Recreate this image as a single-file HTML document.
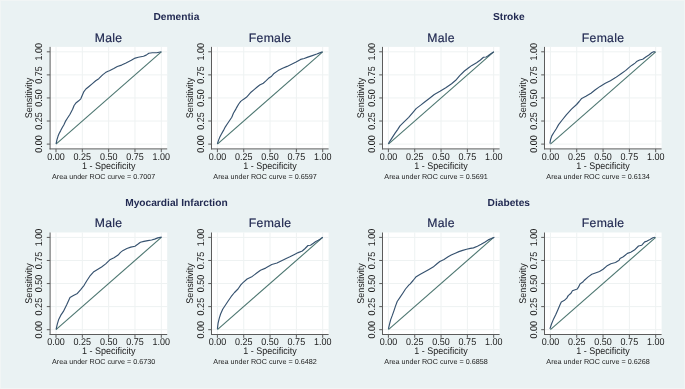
<!DOCTYPE html>
<html><head><meta charset="utf-8"><style>
html,body{margin:0;padding:0;background:#eaf2f3;}
svg{display:block;will-change:transform;text-rendering:geometricPrecision;font-family:"Liberation Sans",sans-serif;}
</style></head><body>
<svg width="685" height="389" viewBox="0 0 685 389">
<rect x="0" y="0" width="685" height="389" fill="#eaf2f3"/>
<rect x="50.1" y="46.9" width="117.1" height="102" fill="#fff"/>
<line x1="56" y1="46.9" x2="56" y2="148.9" stroke="#eef2f2" stroke-width="1"/>
<line x1="50.1" y1="144.1" x2="167.2" y2="144.1" stroke="#eef2f2" stroke-width="1"/>
<line x1="82.33" y1="46.9" x2="82.33" y2="148.9" stroke="#eef2f2" stroke-width="1"/>
<line x1="50.1" y1="121.02" x2="167.2" y2="121.02" stroke="#eef2f2" stroke-width="1"/>
<line x1="108.65" y1="46.9" x2="108.65" y2="148.9" stroke="#eef2f2" stroke-width="1"/>
<line x1="50.1" y1="97.95" x2="167.2" y2="97.95" stroke="#eef2f2" stroke-width="1"/>
<line x1="134.97" y1="46.9" x2="134.97" y2="148.9" stroke="#eef2f2" stroke-width="1"/>
<line x1="50.1" y1="74.88" x2="167.2" y2="74.88" stroke="#eef2f2" stroke-width="1"/>
<line x1="161.3" y1="46.9" x2="161.3" y2="148.9" stroke="#eef2f2" stroke-width="1"/>
<line x1="50.1" y1="51.8" x2="167.2" y2="51.8" stroke="#eef2f2" stroke-width="1"/>
<line x1="50.1" y1="46.9" x2="50.1" y2="149.4" stroke="#5c5c5c" stroke-width="1"/>
<line x1="49.6" y1="148.9" x2="167.2" y2="148.9" stroke="#5c5c5c" stroke-width="1"/>
<line x1="46.8" y1="144.1" x2="50.1" y2="144.1" stroke="#5c5c5c" stroke-width="1"/>
<line x1="56" y1="148.9" x2="56" y2="152.2" stroke="#5c5c5c" stroke-width="1"/>
<text transform="translate(56,159.7) scale(1,1.09)" font-size="9" text-anchor="middle" fill="#1c1c1c">0.00</text>
<text transform="translate(42.4,144.1) rotate(-90) scale(1,1.09)" font-size="9" text-anchor="middle" fill="#1c1c1c">0.00</text>
<line x1="46.8" y1="121.02" x2="50.1" y2="121.02" stroke="#5c5c5c" stroke-width="1"/>
<line x1="82.33" y1="148.9" x2="82.33" y2="152.2" stroke="#5c5c5c" stroke-width="1"/>
<text transform="translate(82.33,159.7) scale(1,1.09)" font-size="9" text-anchor="middle" fill="#1c1c1c">0.25</text>
<text transform="translate(42.4,121.02) rotate(-90) scale(1,1.09)" font-size="9" text-anchor="middle" fill="#1c1c1c">0.25</text>
<line x1="46.8" y1="97.95" x2="50.1" y2="97.95" stroke="#5c5c5c" stroke-width="1"/>
<line x1="108.65" y1="148.9" x2="108.65" y2="152.2" stroke="#5c5c5c" stroke-width="1"/>
<text transform="translate(108.65,159.7) scale(1,1.09)" font-size="9" text-anchor="middle" fill="#1c1c1c">0.50</text>
<text transform="translate(42.4,97.95) rotate(-90) scale(1,1.09)" font-size="9" text-anchor="middle" fill="#1c1c1c">0.50</text>
<line x1="46.8" y1="74.88" x2="50.1" y2="74.88" stroke="#5c5c5c" stroke-width="1"/>
<line x1="134.97" y1="148.9" x2="134.97" y2="152.2" stroke="#5c5c5c" stroke-width="1"/>
<text transform="translate(134.97,159.7) scale(1,1.09)" font-size="9" text-anchor="middle" fill="#1c1c1c">0.75</text>
<text transform="translate(42.4,74.88) rotate(-90) scale(1,1.09)" font-size="9" text-anchor="middle" fill="#1c1c1c">0.75</text>
<line x1="46.8" y1="51.8" x2="50.1" y2="51.8" stroke="#5c5c5c" stroke-width="1"/>
<line x1="161.3" y1="148.9" x2="161.3" y2="152.2" stroke="#5c5c5c" stroke-width="1"/>
<text transform="translate(161.3,159.7) scale(1,1.09)" font-size="9" text-anchor="middle" fill="#1c1c1c">1.00</text>
<text transform="translate(42.4,51.8) rotate(-90) scale(1,1.09)" font-size="9" text-anchor="middle" fill="#1c1c1c">1.00</text>
<line x1="56" y1="144.1" x2="161.3" y2="51.8" stroke="#4c7670" stroke-width="1.12"/>
<polyline points="56.1,143.8 56.9,139.9 58,136.3 59,133.7 60.7,130.6 62.3,127.5 63.8,125 65.4,121.4 67.4,118.3 70,114.2 72.6,109.3 74.1,105.5 76.2,102.7 78.7,100.8 80.8,98.8 82.3,95.2 83.9,91.6 85.9,89 89,86.5 92.1,83.9 95.7,80.8 98.8,78.7 100.8,76.7 102.9,74.6 105.5,72.6 108,71.3 109.4,70.8 113.8,68.6 117.3,66.5 121.6,65.1 126,63 131.3,60.3 135.2,58.1 138.3,57.3 143.5,56.2 146.2,55.1 148.8,53.3 152.3,52.7 156.7,52.7 161.5,51.7" fill="none" stroke="#36526f" stroke-width="1.15" stroke-linejoin="round"/>
<text x="108.65" y="41.9" font-size="12.2" letter-spacing="0.3" text-anchor="middle" fill="#222a52" stroke="#222a52" stroke-width="0.2">Male</text>
<text transform="translate(108.65,168.7) scale(1,1.07)" font-size="9" text-anchor="middle" fill="#1c1c1c">1 - Specificity</text>
<text transform="translate(31.6,97.95) rotate(-90) scale(1,1.07)" font-size="9" text-anchor="middle" fill="#1c1c1c">Sensitivity</text>
<text x="103.6" y="178.5" font-size="7.2" text-anchor="middle" fill="#1c1c1c">Area under ROC curve = 0.7007</text>
<rect x="211.5" y="46.9" width="117.1" height="102" fill="#fff"/>
<line x1="217.4" y1="46.9" x2="217.4" y2="148.9" stroke="#eef2f2" stroke-width="1"/>
<line x1="211.5" y1="144.1" x2="328.6" y2="144.1" stroke="#eef2f2" stroke-width="1"/>
<line x1="243.72" y1="46.9" x2="243.72" y2="148.9" stroke="#eef2f2" stroke-width="1"/>
<line x1="211.5" y1="121.02" x2="328.6" y2="121.02" stroke="#eef2f2" stroke-width="1"/>
<line x1="270.05" y1="46.9" x2="270.05" y2="148.9" stroke="#eef2f2" stroke-width="1"/>
<line x1="211.5" y1="97.95" x2="328.6" y2="97.95" stroke="#eef2f2" stroke-width="1"/>
<line x1="296.38" y1="46.9" x2="296.38" y2="148.9" stroke="#eef2f2" stroke-width="1"/>
<line x1="211.5" y1="74.88" x2="328.6" y2="74.88" stroke="#eef2f2" stroke-width="1"/>
<line x1="322.7" y1="46.9" x2="322.7" y2="148.9" stroke="#eef2f2" stroke-width="1"/>
<line x1="211.5" y1="51.8" x2="328.6" y2="51.8" stroke="#eef2f2" stroke-width="1"/>
<line x1="211.5" y1="46.9" x2="211.5" y2="149.4" stroke="#5c5c5c" stroke-width="1"/>
<line x1="211" y1="148.9" x2="328.6" y2="148.9" stroke="#5c5c5c" stroke-width="1"/>
<line x1="208.2" y1="144.1" x2="211.5" y2="144.1" stroke="#5c5c5c" stroke-width="1"/>
<line x1="217.4" y1="148.9" x2="217.4" y2="152.2" stroke="#5c5c5c" stroke-width="1"/>
<text transform="translate(217.4,159.7) scale(1,1.09)" font-size="9" text-anchor="middle" fill="#1c1c1c">0.00</text>
<text transform="translate(203.8,144.1) rotate(-90) scale(1,1.09)" font-size="9" text-anchor="middle" fill="#1c1c1c">0.00</text>
<line x1="208.2" y1="121.02" x2="211.5" y2="121.02" stroke="#5c5c5c" stroke-width="1"/>
<line x1="243.72" y1="148.9" x2="243.72" y2="152.2" stroke="#5c5c5c" stroke-width="1"/>
<text transform="translate(243.72,159.7) scale(1,1.09)" font-size="9" text-anchor="middle" fill="#1c1c1c">0.25</text>
<text transform="translate(203.8,121.02) rotate(-90) scale(1,1.09)" font-size="9" text-anchor="middle" fill="#1c1c1c">0.25</text>
<line x1="208.2" y1="97.95" x2="211.5" y2="97.95" stroke="#5c5c5c" stroke-width="1"/>
<line x1="270.05" y1="148.9" x2="270.05" y2="152.2" stroke="#5c5c5c" stroke-width="1"/>
<text transform="translate(270.05,159.7) scale(1,1.09)" font-size="9" text-anchor="middle" fill="#1c1c1c">0.50</text>
<text transform="translate(203.8,97.95) rotate(-90) scale(1,1.09)" font-size="9" text-anchor="middle" fill="#1c1c1c">0.50</text>
<line x1="208.2" y1="74.88" x2="211.5" y2="74.88" stroke="#5c5c5c" stroke-width="1"/>
<line x1="296.38" y1="148.9" x2="296.38" y2="152.2" stroke="#5c5c5c" stroke-width="1"/>
<text transform="translate(296.38,159.7) scale(1,1.09)" font-size="9" text-anchor="middle" fill="#1c1c1c">0.75</text>
<text transform="translate(203.8,74.88) rotate(-90) scale(1,1.09)" font-size="9" text-anchor="middle" fill="#1c1c1c">0.75</text>
<line x1="208.2" y1="51.8" x2="211.5" y2="51.8" stroke="#5c5c5c" stroke-width="1"/>
<line x1="322.7" y1="148.9" x2="322.7" y2="152.2" stroke="#5c5c5c" stroke-width="1"/>
<text transform="translate(322.7,159.7) scale(1,1.09)" font-size="9" text-anchor="middle" fill="#1c1c1c">1.00</text>
<text transform="translate(203.8,51.8) rotate(-90) scale(1,1.09)" font-size="9" text-anchor="middle" fill="#1c1c1c">1.00</text>
<line x1="217.4" y1="144.1" x2="322.7" y2="51.8" stroke="#4c7670" stroke-width="1.12"/>
<polyline points="217.4,143.8 218.5,140.4 219.6,137.6 221.3,134.3 223.5,130.4 225.2,127.1 227.4,123.8 229.6,120.5 231.8,117.2 233.4,113.3 235.7,109.4 236.6,107.6 238.7,104 240.7,101.4 243.3,99.4 246.4,97.3 248.4,95.2 251,92.2 254.1,89.6 257.2,87 259.7,85 263.3,83.2 265.9,80.9 268.5,78.3 271.6,76.2 273.6,73.8 278.1,70.6 282.6,68.2 287.1,66.4 291.6,64.3 296.1,62.1 300.6,59.4 304.2,58.5 307.8,57.1 312.3,55.6 316.8,54 320.4,52.6 322.6,51.7" fill="none" stroke="#36526f" stroke-width="1.15" stroke-linejoin="round"/>
<text x="270.05" y="41.9" font-size="12.2" letter-spacing="0.3" text-anchor="middle" fill="#222a52" stroke="#222a52" stroke-width="0.2">Female</text>
<text transform="translate(270.05,168.7) scale(1,1.07)" font-size="9" text-anchor="middle" fill="#1c1c1c">1 - Specificity</text>
<text transform="translate(193,97.95) rotate(-90) scale(1,1.07)" font-size="9" text-anchor="middle" fill="#1c1c1c">Sensitivity</text>
<text x="265" y="178.5" font-size="7.2" text-anchor="middle" fill="#1c1c1c">Area under ROC curve = 0.6597</text>
<text x="176.4" y="20.2" font-size="10.2" font-weight="bold" text-anchor="middle" fill="#222a52">Dementia</text>
<rect x="382.5" y="46.9" width="117.1" height="102" fill="#fff"/>
<line x1="388.4" y1="46.9" x2="388.4" y2="148.9" stroke="#eef2f2" stroke-width="1"/>
<line x1="382.5" y1="144.1" x2="499.6" y2="144.1" stroke="#eef2f2" stroke-width="1"/>
<line x1="414.72" y1="46.9" x2="414.72" y2="148.9" stroke="#eef2f2" stroke-width="1"/>
<line x1="382.5" y1="121.02" x2="499.6" y2="121.02" stroke="#eef2f2" stroke-width="1"/>
<line x1="441.05" y1="46.9" x2="441.05" y2="148.9" stroke="#eef2f2" stroke-width="1"/>
<line x1="382.5" y1="97.95" x2="499.6" y2="97.95" stroke="#eef2f2" stroke-width="1"/>
<line x1="467.38" y1="46.9" x2="467.38" y2="148.9" stroke="#eef2f2" stroke-width="1"/>
<line x1="382.5" y1="74.88" x2="499.6" y2="74.88" stroke="#eef2f2" stroke-width="1"/>
<line x1="493.7" y1="46.9" x2="493.7" y2="148.9" stroke="#eef2f2" stroke-width="1"/>
<line x1="382.5" y1="51.8" x2="499.6" y2="51.8" stroke="#eef2f2" stroke-width="1"/>
<line x1="382.5" y1="46.9" x2="382.5" y2="149.4" stroke="#5c5c5c" stroke-width="1"/>
<line x1="382" y1="148.9" x2="499.6" y2="148.9" stroke="#5c5c5c" stroke-width="1"/>
<line x1="379.2" y1="144.1" x2="382.5" y2="144.1" stroke="#5c5c5c" stroke-width="1"/>
<line x1="388.4" y1="148.9" x2="388.4" y2="152.2" stroke="#5c5c5c" stroke-width="1"/>
<text transform="translate(388.4,159.7) scale(1,1.09)" font-size="9" text-anchor="middle" fill="#1c1c1c">0.00</text>
<text transform="translate(374.8,144.1) rotate(-90) scale(1,1.09)" font-size="9" text-anchor="middle" fill="#1c1c1c">0.00</text>
<line x1="379.2" y1="121.02" x2="382.5" y2="121.02" stroke="#5c5c5c" stroke-width="1"/>
<line x1="414.72" y1="148.9" x2="414.72" y2="152.2" stroke="#5c5c5c" stroke-width="1"/>
<text transform="translate(414.72,159.7) scale(1,1.09)" font-size="9" text-anchor="middle" fill="#1c1c1c">0.25</text>
<text transform="translate(374.8,121.02) rotate(-90) scale(1,1.09)" font-size="9" text-anchor="middle" fill="#1c1c1c">0.25</text>
<line x1="379.2" y1="97.95" x2="382.5" y2="97.95" stroke="#5c5c5c" stroke-width="1"/>
<line x1="441.05" y1="148.9" x2="441.05" y2="152.2" stroke="#5c5c5c" stroke-width="1"/>
<text transform="translate(441.05,159.7) scale(1,1.09)" font-size="9" text-anchor="middle" fill="#1c1c1c">0.50</text>
<text transform="translate(374.8,97.95) rotate(-90) scale(1,1.09)" font-size="9" text-anchor="middle" fill="#1c1c1c">0.50</text>
<line x1="379.2" y1="74.88" x2="382.5" y2="74.88" stroke="#5c5c5c" stroke-width="1"/>
<line x1="467.38" y1="148.9" x2="467.38" y2="152.2" stroke="#5c5c5c" stroke-width="1"/>
<text transform="translate(467.38,159.7) scale(1,1.09)" font-size="9" text-anchor="middle" fill="#1c1c1c">0.75</text>
<text transform="translate(374.8,74.88) rotate(-90) scale(1,1.09)" font-size="9" text-anchor="middle" fill="#1c1c1c">0.75</text>
<line x1="379.2" y1="51.8" x2="382.5" y2="51.8" stroke="#5c5c5c" stroke-width="1"/>
<line x1="493.7" y1="148.9" x2="493.7" y2="152.2" stroke="#5c5c5c" stroke-width="1"/>
<text transform="translate(493.7,159.7) scale(1,1.09)" font-size="9" text-anchor="middle" fill="#1c1c1c">1.00</text>
<text transform="translate(374.8,51.8) rotate(-90) scale(1,1.09)" font-size="9" text-anchor="middle" fill="#1c1c1c">1.00</text>
<line x1="388.4" y1="144.1" x2="493.7" y2="51.8" stroke="#4c7670" stroke-width="1.12"/>
<polyline points="388.3,143.7 391.4,138.9 395.1,133.1 397.6,129.6 400,125.9 403.8,122.2 408.7,117.3 413,112.3 416.1,108.6 421,104.9 425,101.7 429.6,98.2 434.3,94.5 440,91.3 445.8,87.8 451.6,83.7 455.7,80.3 459.7,75.6 464.4,71 469,67.5 471.9,65.4 476.6,62.7 480.4,60 483.5,57.2 486.2,57 488.1,55.8 491.2,53.5 493.9,51.8" fill="none" stroke="#36526f" stroke-width="1.15" stroke-linejoin="round"/>
<text x="441.05" y="41.9" font-size="12.2" letter-spacing="0.3" text-anchor="middle" fill="#222a52" stroke="#222a52" stroke-width="0.2">Male</text>
<text transform="translate(441.05,168.7) scale(1,1.07)" font-size="9" text-anchor="middle" fill="#1c1c1c">1 - Specificity</text>
<text transform="translate(364,97.95) rotate(-90) scale(1,1.07)" font-size="9" text-anchor="middle" fill="#1c1c1c">Sensitivity</text>
<text x="436" y="178.5" font-size="7.2" text-anchor="middle" fill="#1c1c1c">Area under ROC curve = 0.5691</text>
<rect x="544.5" y="46.9" width="117.1" height="102" fill="#fff"/>
<line x1="550.4" y1="46.9" x2="550.4" y2="148.9" stroke="#eef2f2" stroke-width="1"/>
<line x1="544.5" y1="144.1" x2="661.6" y2="144.1" stroke="#eef2f2" stroke-width="1"/>
<line x1="576.73" y1="46.9" x2="576.73" y2="148.9" stroke="#eef2f2" stroke-width="1"/>
<line x1="544.5" y1="121.02" x2="661.6" y2="121.02" stroke="#eef2f2" stroke-width="1"/>
<line x1="603.05" y1="46.9" x2="603.05" y2="148.9" stroke="#eef2f2" stroke-width="1"/>
<line x1="544.5" y1="97.95" x2="661.6" y2="97.95" stroke="#eef2f2" stroke-width="1"/>
<line x1="629.38" y1="46.9" x2="629.38" y2="148.9" stroke="#eef2f2" stroke-width="1"/>
<line x1="544.5" y1="74.88" x2="661.6" y2="74.88" stroke="#eef2f2" stroke-width="1"/>
<line x1="655.7" y1="46.9" x2="655.7" y2="148.9" stroke="#eef2f2" stroke-width="1"/>
<line x1="544.5" y1="51.8" x2="661.6" y2="51.8" stroke="#eef2f2" stroke-width="1"/>
<line x1="544.5" y1="46.9" x2="544.5" y2="149.4" stroke="#5c5c5c" stroke-width="1"/>
<line x1="544" y1="148.9" x2="661.6" y2="148.9" stroke="#5c5c5c" stroke-width="1"/>
<line x1="541.2" y1="144.1" x2="544.5" y2="144.1" stroke="#5c5c5c" stroke-width="1"/>
<line x1="550.4" y1="148.9" x2="550.4" y2="152.2" stroke="#5c5c5c" stroke-width="1"/>
<text transform="translate(550.4,159.7) scale(1,1.09)" font-size="9" text-anchor="middle" fill="#1c1c1c">0.00</text>
<text transform="translate(536.8,144.1) rotate(-90) scale(1,1.09)" font-size="9" text-anchor="middle" fill="#1c1c1c">0.00</text>
<line x1="541.2" y1="121.02" x2="544.5" y2="121.02" stroke="#5c5c5c" stroke-width="1"/>
<line x1="576.73" y1="148.9" x2="576.73" y2="152.2" stroke="#5c5c5c" stroke-width="1"/>
<text transform="translate(576.73,159.7) scale(1,1.09)" font-size="9" text-anchor="middle" fill="#1c1c1c">0.25</text>
<text transform="translate(536.8,121.02) rotate(-90) scale(1,1.09)" font-size="9" text-anchor="middle" fill="#1c1c1c">0.25</text>
<line x1="541.2" y1="97.95" x2="544.5" y2="97.95" stroke="#5c5c5c" stroke-width="1"/>
<line x1="603.05" y1="148.9" x2="603.05" y2="152.2" stroke="#5c5c5c" stroke-width="1"/>
<text transform="translate(603.05,159.7) scale(1,1.09)" font-size="9" text-anchor="middle" fill="#1c1c1c">0.50</text>
<text transform="translate(536.8,97.95) rotate(-90) scale(1,1.09)" font-size="9" text-anchor="middle" fill="#1c1c1c">0.50</text>
<line x1="541.2" y1="74.88" x2="544.5" y2="74.88" stroke="#5c5c5c" stroke-width="1"/>
<line x1="629.38" y1="148.9" x2="629.38" y2="152.2" stroke="#5c5c5c" stroke-width="1"/>
<text transform="translate(629.38,159.7) scale(1,1.09)" font-size="9" text-anchor="middle" fill="#1c1c1c">0.75</text>
<text transform="translate(536.8,74.88) rotate(-90) scale(1,1.09)" font-size="9" text-anchor="middle" fill="#1c1c1c">0.75</text>
<line x1="541.2" y1="51.8" x2="544.5" y2="51.8" stroke="#5c5c5c" stroke-width="1"/>
<line x1="655.7" y1="148.9" x2="655.7" y2="152.2" stroke="#5c5c5c" stroke-width="1"/>
<text transform="translate(655.7,159.7) scale(1,1.09)" font-size="9" text-anchor="middle" fill="#1c1c1c">1.00</text>
<text transform="translate(536.8,51.8) rotate(-90) scale(1,1.09)" font-size="9" text-anchor="middle" fill="#1c1c1c">1.00</text>
<line x1="550.4" y1="144.1" x2="655.7" y2="51.8" stroke="#4c7670" stroke-width="1.12"/>
<polyline points="549.9,143.5 550.5,139.8 551.8,135.9 553.7,132.7 556.3,128.8 558.6,124.6 562.2,120 566.3,114.8 571.5,109.2 576.6,104.5 579.2,101.5 581.7,98.4 585.9,96.3 591,93.2 595,90 600.1,86.4 605.3,83.3 610.4,80.7 615.6,77.6 620.7,74 625.8,70.4 628.9,67.6 631,65.9 632.7,64.7 635,63.1 636.6,61.6 639.6,60 642.7,59.3 645.8,57 648.9,55 651.6,52.7 653.5,51.8 655.3,51.8" fill="none" stroke="#36526f" stroke-width="1.15" stroke-linejoin="round"/>
<text x="603.05" y="41.9" font-size="12.2" letter-spacing="0.3" text-anchor="middle" fill="#222a52" stroke="#222a52" stroke-width="0.2">Female</text>
<text transform="translate(603.05,168.7) scale(1,1.07)" font-size="9" text-anchor="middle" fill="#1c1c1c">1 - Specificity</text>
<text transform="translate(526,97.95) rotate(-90) scale(1,1.07)" font-size="9" text-anchor="middle" fill="#1c1c1c">Sensitivity</text>
<text x="598" y="178.5" font-size="7.2" text-anchor="middle" fill="#1c1c1c">Area under ROC curve = 0.6134</text>
<text x="508.8" y="20.2" font-size="10.2" font-weight="bold" text-anchor="middle" fill="#222a52">Stroke</text>
<rect x="50.1" y="232.5" width="117.1" height="102" fill="#fff"/>
<line x1="56" y1="232.5" x2="56" y2="334.5" stroke="#eef2f2" stroke-width="1"/>
<line x1="50.1" y1="329.7" x2="167.2" y2="329.7" stroke="#eef2f2" stroke-width="1"/>
<line x1="82.33" y1="232.5" x2="82.33" y2="334.5" stroke="#eef2f2" stroke-width="1"/>
<line x1="50.1" y1="306.62" x2="167.2" y2="306.62" stroke="#eef2f2" stroke-width="1"/>
<line x1="108.65" y1="232.5" x2="108.65" y2="334.5" stroke="#eef2f2" stroke-width="1"/>
<line x1="50.1" y1="283.55" x2="167.2" y2="283.55" stroke="#eef2f2" stroke-width="1"/>
<line x1="134.97" y1="232.5" x2="134.97" y2="334.5" stroke="#eef2f2" stroke-width="1"/>
<line x1="50.1" y1="260.48" x2="167.2" y2="260.48" stroke="#eef2f2" stroke-width="1"/>
<line x1="161.3" y1="232.5" x2="161.3" y2="334.5" stroke="#eef2f2" stroke-width="1"/>
<line x1="50.1" y1="237.4" x2="167.2" y2="237.4" stroke="#eef2f2" stroke-width="1"/>
<line x1="50.1" y1="232.5" x2="50.1" y2="335" stroke="#5c5c5c" stroke-width="1"/>
<line x1="49.6" y1="334.5" x2="167.2" y2="334.5" stroke="#5c5c5c" stroke-width="1"/>
<line x1="46.8" y1="329.7" x2="50.1" y2="329.7" stroke="#5c5c5c" stroke-width="1"/>
<line x1="56" y1="334.5" x2="56" y2="337.8" stroke="#5c5c5c" stroke-width="1"/>
<text transform="translate(56,345) scale(1,1.09)" font-size="9" text-anchor="middle" fill="#1c1c1c">0.00</text>
<text transform="translate(42.4,329.7) rotate(-90) scale(1,1.09)" font-size="9" text-anchor="middle" fill="#1c1c1c">0.00</text>
<line x1="46.8" y1="306.62" x2="50.1" y2="306.62" stroke="#5c5c5c" stroke-width="1"/>
<line x1="82.33" y1="334.5" x2="82.33" y2="337.8" stroke="#5c5c5c" stroke-width="1"/>
<text transform="translate(82.33,345) scale(1,1.09)" font-size="9" text-anchor="middle" fill="#1c1c1c">0.25</text>
<text transform="translate(42.4,306.62) rotate(-90) scale(1,1.09)" font-size="9" text-anchor="middle" fill="#1c1c1c">0.25</text>
<line x1="46.8" y1="283.55" x2="50.1" y2="283.55" stroke="#5c5c5c" stroke-width="1"/>
<line x1="108.65" y1="334.5" x2="108.65" y2="337.8" stroke="#5c5c5c" stroke-width="1"/>
<text transform="translate(108.65,345) scale(1,1.09)" font-size="9" text-anchor="middle" fill="#1c1c1c">0.50</text>
<text transform="translate(42.4,283.55) rotate(-90) scale(1,1.09)" font-size="9" text-anchor="middle" fill="#1c1c1c">0.50</text>
<line x1="46.8" y1="260.48" x2="50.1" y2="260.48" stroke="#5c5c5c" stroke-width="1"/>
<line x1="134.97" y1="334.5" x2="134.97" y2="337.8" stroke="#5c5c5c" stroke-width="1"/>
<text transform="translate(134.97,345) scale(1,1.09)" font-size="9" text-anchor="middle" fill="#1c1c1c">0.75</text>
<text transform="translate(42.4,260.48) rotate(-90) scale(1,1.09)" font-size="9" text-anchor="middle" fill="#1c1c1c">0.75</text>
<line x1="46.8" y1="237.4" x2="50.1" y2="237.4" stroke="#5c5c5c" stroke-width="1"/>
<line x1="161.3" y1="334.5" x2="161.3" y2="337.8" stroke="#5c5c5c" stroke-width="1"/>
<text transform="translate(161.3,345) scale(1,1.09)" font-size="9" text-anchor="middle" fill="#1c1c1c">1.00</text>
<text transform="translate(42.4,237.4) rotate(-90) scale(1,1.09)" font-size="9" text-anchor="middle" fill="#1c1c1c">1.00</text>
<line x1="56" y1="329.7" x2="161.3" y2="237.4" stroke="#4c7670" stroke-width="1.12"/>
<polyline points="56.1,329.4 57.3,324.1 58.7,319.4 60.7,315.4 63.4,311.4 66.7,304.7 70,297.4 73.4,295.4 77.4,293.4 80.7,289.6 84.1,285.3 86.8,280.7 89.8,276.2 93.4,272.1 97.5,269.5 101.6,267 105.7,263.9 109.8,259.8 114,257.7 118.1,255.1 120.5,252.4 123.1,250.4 126.9,248.5 130.8,247.1 135,246.2 137.7,244.3 140.4,242.3 143.9,241.4 147.8,240.6 151.6,240 154.7,239.1 157.8,237.9 161.7,237.1" fill="none" stroke="#36526f" stroke-width="1.15" stroke-linejoin="round"/>
<text x="108.65" y="227.2" font-size="12.2" letter-spacing="0.3" text-anchor="middle" fill="#222a52" stroke="#222a52" stroke-width="0.2">Male</text>
<text transform="translate(108.65,354) scale(1,1.07)" font-size="9" text-anchor="middle" fill="#1c1c1c">1 - Specificity</text>
<text transform="translate(31.6,283.55) rotate(-90) scale(1,1.07)" font-size="9" text-anchor="middle" fill="#1c1c1c">Sensitivity</text>
<text x="103.6" y="363.8" font-size="7.2" text-anchor="middle" fill="#1c1c1c">Area under ROC curve = 0.6730</text>
<rect x="211.5" y="232.5" width="117.1" height="102" fill="#fff"/>
<line x1="217.4" y1="232.5" x2="217.4" y2="334.5" stroke="#eef2f2" stroke-width="1"/>
<line x1="211.5" y1="329.7" x2="328.6" y2="329.7" stroke="#eef2f2" stroke-width="1"/>
<line x1="243.72" y1="232.5" x2="243.72" y2="334.5" stroke="#eef2f2" stroke-width="1"/>
<line x1="211.5" y1="306.62" x2="328.6" y2="306.62" stroke="#eef2f2" stroke-width="1"/>
<line x1="270.05" y1="232.5" x2="270.05" y2="334.5" stroke="#eef2f2" stroke-width="1"/>
<line x1="211.5" y1="283.55" x2="328.6" y2="283.55" stroke="#eef2f2" stroke-width="1"/>
<line x1="296.38" y1="232.5" x2="296.38" y2="334.5" stroke="#eef2f2" stroke-width="1"/>
<line x1="211.5" y1="260.48" x2="328.6" y2="260.48" stroke="#eef2f2" stroke-width="1"/>
<line x1="322.7" y1="232.5" x2="322.7" y2="334.5" stroke="#eef2f2" stroke-width="1"/>
<line x1="211.5" y1="237.4" x2="328.6" y2="237.4" stroke="#eef2f2" stroke-width="1"/>
<line x1="211.5" y1="232.5" x2="211.5" y2="335" stroke="#5c5c5c" stroke-width="1"/>
<line x1="211" y1="334.5" x2="328.6" y2="334.5" stroke="#5c5c5c" stroke-width="1"/>
<line x1="208.2" y1="329.7" x2="211.5" y2="329.7" stroke="#5c5c5c" stroke-width="1"/>
<line x1="217.4" y1="334.5" x2="217.4" y2="337.8" stroke="#5c5c5c" stroke-width="1"/>
<text transform="translate(217.4,345) scale(1,1.09)" font-size="9" text-anchor="middle" fill="#1c1c1c">0.00</text>
<text transform="translate(203.8,329.7) rotate(-90) scale(1,1.09)" font-size="9" text-anchor="middle" fill="#1c1c1c">0.00</text>
<line x1="208.2" y1="306.62" x2="211.5" y2="306.62" stroke="#5c5c5c" stroke-width="1"/>
<line x1="243.72" y1="334.5" x2="243.72" y2="337.8" stroke="#5c5c5c" stroke-width="1"/>
<text transform="translate(243.72,345) scale(1,1.09)" font-size="9" text-anchor="middle" fill="#1c1c1c">0.25</text>
<text transform="translate(203.8,306.62) rotate(-90) scale(1,1.09)" font-size="9" text-anchor="middle" fill="#1c1c1c">0.25</text>
<line x1="208.2" y1="283.55" x2="211.5" y2="283.55" stroke="#5c5c5c" stroke-width="1"/>
<line x1="270.05" y1="334.5" x2="270.05" y2="337.8" stroke="#5c5c5c" stroke-width="1"/>
<text transform="translate(270.05,345) scale(1,1.09)" font-size="9" text-anchor="middle" fill="#1c1c1c">0.50</text>
<text transform="translate(203.8,283.55) rotate(-90) scale(1,1.09)" font-size="9" text-anchor="middle" fill="#1c1c1c">0.50</text>
<line x1="208.2" y1="260.48" x2="211.5" y2="260.48" stroke="#5c5c5c" stroke-width="1"/>
<line x1="296.38" y1="334.5" x2="296.38" y2="337.8" stroke="#5c5c5c" stroke-width="1"/>
<text transform="translate(296.38,345) scale(1,1.09)" font-size="9" text-anchor="middle" fill="#1c1c1c">0.75</text>
<text transform="translate(203.8,260.48) rotate(-90) scale(1,1.09)" font-size="9" text-anchor="middle" fill="#1c1c1c">0.75</text>
<line x1="208.2" y1="237.4" x2="211.5" y2="237.4" stroke="#5c5c5c" stroke-width="1"/>
<line x1="322.7" y1="334.5" x2="322.7" y2="337.8" stroke="#5c5c5c" stroke-width="1"/>
<text transform="translate(322.7,345) scale(1,1.09)" font-size="9" text-anchor="middle" fill="#1c1c1c">1.00</text>
<text transform="translate(203.8,237.4) rotate(-90) scale(1,1.09)" font-size="9" text-anchor="middle" fill="#1c1c1c">1.00</text>
<line x1="217.4" y1="329.7" x2="322.7" y2="237.4" stroke="#4c7670" stroke-width="1.12"/>
<polyline points="217.4,328.9 218.1,323.1 219.3,318.2 220.6,314 222.7,309.2 225.5,305 228.3,300.8 231.1,296.7 234.5,292.5 238,289 240.8,284.9 243,282.6 247.1,279 252.3,276.4 256.4,273.3 260.5,270.2 265.6,268.1 271.8,264.5 277,263 282.1,260.4 286.2,258.4 289.9,256.7 294,254.7 298.2,252.6 302.3,251 305.1,248.5 308,245.5 310.5,245.2 313.4,243.2 315.8,241.5 318.3,240.3 320.4,238.9 322.8,237.2" fill="none" stroke="#36526f" stroke-width="1.15" stroke-linejoin="round"/>
<text x="270.05" y="227.2" font-size="12.2" letter-spacing="0.3" text-anchor="middle" fill="#222a52" stroke="#222a52" stroke-width="0.2">Female</text>
<text transform="translate(270.05,354) scale(1,1.07)" font-size="9" text-anchor="middle" fill="#1c1c1c">1 - Specificity</text>
<text transform="translate(193,283.55) rotate(-90) scale(1,1.07)" font-size="9" text-anchor="middle" fill="#1c1c1c">Sensitivity</text>
<text x="265" y="363.8" font-size="7.2" text-anchor="middle" fill="#1c1c1c">Area under ROC curve = 0.6482</text>
<text x="176.4" y="205.5" font-size="10.2" font-weight="bold" text-anchor="middle" fill="#222a52">Myocardial Infarction</text>
<rect x="382.5" y="232.5" width="117.1" height="102" fill="#fff"/>
<line x1="388.4" y1="232.5" x2="388.4" y2="334.5" stroke="#eef2f2" stroke-width="1"/>
<line x1="382.5" y1="329.7" x2="499.6" y2="329.7" stroke="#eef2f2" stroke-width="1"/>
<line x1="414.72" y1="232.5" x2="414.72" y2="334.5" stroke="#eef2f2" stroke-width="1"/>
<line x1="382.5" y1="306.62" x2="499.6" y2="306.62" stroke="#eef2f2" stroke-width="1"/>
<line x1="441.05" y1="232.5" x2="441.05" y2="334.5" stroke="#eef2f2" stroke-width="1"/>
<line x1="382.5" y1="283.55" x2="499.6" y2="283.55" stroke="#eef2f2" stroke-width="1"/>
<line x1="467.38" y1="232.5" x2="467.38" y2="334.5" stroke="#eef2f2" stroke-width="1"/>
<line x1="382.5" y1="260.48" x2="499.6" y2="260.48" stroke="#eef2f2" stroke-width="1"/>
<line x1="493.7" y1="232.5" x2="493.7" y2="334.5" stroke="#eef2f2" stroke-width="1"/>
<line x1="382.5" y1="237.4" x2="499.6" y2="237.4" stroke="#eef2f2" stroke-width="1"/>
<line x1="382.5" y1="232.5" x2="382.5" y2="335" stroke="#5c5c5c" stroke-width="1"/>
<line x1="382" y1="334.5" x2="499.6" y2="334.5" stroke="#5c5c5c" stroke-width="1"/>
<line x1="379.2" y1="329.7" x2="382.5" y2="329.7" stroke="#5c5c5c" stroke-width="1"/>
<line x1="388.4" y1="334.5" x2="388.4" y2="337.8" stroke="#5c5c5c" stroke-width="1"/>
<text transform="translate(388.4,345) scale(1,1.09)" font-size="9" text-anchor="middle" fill="#1c1c1c">0.00</text>
<text transform="translate(374.8,329.7) rotate(-90) scale(1,1.09)" font-size="9" text-anchor="middle" fill="#1c1c1c">0.00</text>
<line x1="379.2" y1="306.62" x2="382.5" y2="306.62" stroke="#5c5c5c" stroke-width="1"/>
<line x1="414.72" y1="334.5" x2="414.72" y2="337.8" stroke="#5c5c5c" stroke-width="1"/>
<text transform="translate(414.72,345) scale(1,1.09)" font-size="9" text-anchor="middle" fill="#1c1c1c">0.25</text>
<text transform="translate(374.8,306.62) rotate(-90) scale(1,1.09)" font-size="9" text-anchor="middle" fill="#1c1c1c">0.25</text>
<line x1="379.2" y1="283.55" x2="382.5" y2="283.55" stroke="#5c5c5c" stroke-width="1"/>
<line x1="441.05" y1="334.5" x2="441.05" y2="337.8" stroke="#5c5c5c" stroke-width="1"/>
<text transform="translate(441.05,345) scale(1,1.09)" font-size="9" text-anchor="middle" fill="#1c1c1c">0.50</text>
<text transform="translate(374.8,283.55) rotate(-90) scale(1,1.09)" font-size="9" text-anchor="middle" fill="#1c1c1c">0.50</text>
<line x1="379.2" y1="260.48" x2="382.5" y2="260.48" stroke="#5c5c5c" stroke-width="1"/>
<line x1="467.38" y1="334.5" x2="467.38" y2="337.8" stroke="#5c5c5c" stroke-width="1"/>
<text transform="translate(467.38,345) scale(1,1.09)" font-size="9" text-anchor="middle" fill="#1c1c1c">0.75</text>
<text transform="translate(374.8,260.48) rotate(-90) scale(1,1.09)" font-size="9" text-anchor="middle" fill="#1c1c1c">0.75</text>
<line x1="379.2" y1="237.4" x2="382.5" y2="237.4" stroke="#5c5c5c" stroke-width="1"/>
<line x1="493.7" y1="334.5" x2="493.7" y2="337.8" stroke="#5c5c5c" stroke-width="1"/>
<text transform="translate(493.7,345) scale(1,1.09)" font-size="9" text-anchor="middle" fill="#1c1c1c">1.00</text>
<text transform="translate(374.8,237.4) rotate(-90) scale(1,1.09)" font-size="9" text-anchor="middle" fill="#1c1c1c">1.00</text>
<line x1="388.4" y1="329.7" x2="493.7" y2="237.4" stroke="#4c7670" stroke-width="1.12"/>
<polyline points="388.4,328.9 389.6,323.8 390.7,319.6 392.3,315.4 394,310.6 395.4,306.4 397.2,301.5 400,297.4 402.8,293.2 405.5,289 409,284.9 410,284.1 413.1,280.5 416.2,276.7 420.3,274.3 424.4,272 428.5,269.7 433.1,267.1 436.7,264 439.8,261.5 444,259.4 448.1,256.8 451.2,255.1 455.3,253.2 458.9,251.6 462.7,250.4 466.6,249.3 470.4,248.4 473.5,247.9 477.4,246.2 481.2,244.3 485.1,242 488.2,239.9 491.3,238.6 494.4,237.3" fill="none" stroke="#36526f" stroke-width="1.15" stroke-linejoin="round"/>
<text x="441.05" y="227.2" font-size="12.2" letter-spacing="0.3" text-anchor="middle" fill="#222a52" stroke="#222a52" stroke-width="0.2">Male</text>
<text transform="translate(441.05,354) scale(1,1.07)" font-size="9" text-anchor="middle" fill="#1c1c1c">1 - Specificity</text>
<text transform="translate(364,283.55) rotate(-90) scale(1,1.07)" font-size="9" text-anchor="middle" fill="#1c1c1c">Sensitivity</text>
<text x="436" y="363.8" font-size="7.2" text-anchor="middle" fill="#1c1c1c">Area under ROC curve = 0.6858</text>
<rect x="544.5" y="232.5" width="117.1" height="102" fill="#fff"/>
<line x1="550.4" y1="232.5" x2="550.4" y2="334.5" stroke="#eef2f2" stroke-width="1"/>
<line x1="544.5" y1="329.7" x2="661.6" y2="329.7" stroke="#eef2f2" stroke-width="1"/>
<line x1="576.73" y1="232.5" x2="576.73" y2="334.5" stroke="#eef2f2" stroke-width="1"/>
<line x1="544.5" y1="306.62" x2="661.6" y2="306.62" stroke="#eef2f2" stroke-width="1"/>
<line x1="603.05" y1="232.5" x2="603.05" y2="334.5" stroke="#eef2f2" stroke-width="1"/>
<line x1="544.5" y1="283.55" x2="661.6" y2="283.55" stroke="#eef2f2" stroke-width="1"/>
<line x1="629.38" y1="232.5" x2="629.38" y2="334.5" stroke="#eef2f2" stroke-width="1"/>
<line x1="544.5" y1="260.48" x2="661.6" y2="260.48" stroke="#eef2f2" stroke-width="1"/>
<line x1="655.7" y1="232.5" x2="655.7" y2="334.5" stroke="#eef2f2" stroke-width="1"/>
<line x1="544.5" y1="237.4" x2="661.6" y2="237.4" stroke="#eef2f2" stroke-width="1"/>
<line x1="544.5" y1="232.5" x2="544.5" y2="335" stroke="#5c5c5c" stroke-width="1"/>
<line x1="544" y1="334.5" x2="661.6" y2="334.5" stroke="#5c5c5c" stroke-width="1"/>
<line x1="541.2" y1="329.7" x2="544.5" y2="329.7" stroke="#5c5c5c" stroke-width="1"/>
<line x1="550.4" y1="334.5" x2="550.4" y2="337.8" stroke="#5c5c5c" stroke-width="1"/>
<text transform="translate(550.4,345) scale(1,1.09)" font-size="9" text-anchor="middle" fill="#1c1c1c">0.00</text>
<text transform="translate(536.8,329.7) rotate(-90) scale(1,1.09)" font-size="9" text-anchor="middle" fill="#1c1c1c">0.00</text>
<line x1="541.2" y1="306.62" x2="544.5" y2="306.62" stroke="#5c5c5c" stroke-width="1"/>
<line x1="576.73" y1="334.5" x2="576.73" y2="337.8" stroke="#5c5c5c" stroke-width="1"/>
<text transform="translate(576.73,345) scale(1,1.09)" font-size="9" text-anchor="middle" fill="#1c1c1c">0.25</text>
<text transform="translate(536.8,306.62) rotate(-90) scale(1,1.09)" font-size="9" text-anchor="middle" fill="#1c1c1c">0.25</text>
<line x1="541.2" y1="283.55" x2="544.5" y2="283.55" stroke="#5c5c5c" stroke-width="1"/>
<line x1="603.05" y1="334.5" x2="603.05" y2="337.8" stroke="#5c5c5c" stroke-width="1"/>
<text transform="translate(603.05,345) scale(1,1.09)" font-size="9" text-anchor="middle" fill="#1c1c1c">0.50</text>
<text transform="translate(536.8,283.55) rotate(-90) scale(1,1.09)" font-size="9" text-anchor="middle" fill="#1c1c1c">0.50</text>
<line x1="541.2" y1="260.48" x2="544.5" y2="260.48" stroke="#5c5c5c" stroke-width="1"/>
<line x1="629.38" y1="334.5" x2="629.38" y2="337.8" stroke="#5c5c5c" stroke-width="1"/>
<text transform="translate(629.38,345) scale(1,1.09)" font-size="9" text-anchor="middle" fill="#1c1c1c">0.75</text>
<text transform="translate(536.8,260.48) rotate(-90) scale(1,1.09)" font-size="9" text-anchor="middle" fill="#1c1c1c">0.75</text>
<line x1="541.2" y1="237.4" x2="544.5" y2="237.4" stroke="#5c5c5c" stroke-width="1"/>
<line x1="655.7" y1="334.5" x2="655.7" y2="337.8" stroke="#5c5c5c" stroke-width="1"/>
<text transform="translate(655.7,345) scale(1,1.09)" font-size="9" text-anchor="middle" fill="#1c1c1c">1.00</text>
<text transform="translate(536.8,237.4) rotate(-90) scale(1,1.09)" font-size="9" text-anchor="middle" fill="#1c1c1c">1.00</text>
<line x1="550.4" y1="329.7" x2="655.7" y2="237.4" stroke="#4c7670" stroke-width="1.12"/>
<polyline points="549.9,328.9 551.6,323.8 553.6,318.9 555.7,314.7 557.8,309.9 559.9,305 561.3,301.9 564.1,300.6 566.8,298.1 568.2,295.6 571,293.2 572.4,290.8 575.2,289.7 577.3,289 578.6,286.9 580,283.9 582.8,282.1 584.1,280.5 588.2,276.9 591.8,274.3 595.4,273 599.5,271.5 603.1,269.2 606.7,266.1 610.9,263.7 615.5,262.5 619.1,260.2 620,258.4 623.3,256.7 627.4,253.4 630.7,252.2 634.4,250.1 638.5,246 641.8,245.2 644.7,241.9 647.1,241.1 650,239.5 652.9,237.8 655,237.2" fill="none" stroke="#36526f" stroke-width="1.15" stroke-linejoin="round"/>
<text x="603.05" y="227.2" font-size="12.2" letter-spacing="0.3" text-anchor="middle" fill="#222a52" stroke="#222a52" stroke-width="0.2">Female</text>
<text transform="translate(603.05,354) scale(1,1.07)" font-size="9" text-anchor="middle" fill="#1c1c1c">1 - Specificity</text>
<text transform="translate(526,283.55) rotate(-90) scale(1,1.07)" font-size="9" text-anchor="middle" fill="#1c1c1c">Sensitivity</text>
<text x="598" y="363.8" font-size="7.2" text-anchor="middle" fill="#1c1c1c">Area under ROC curve = 0.6268</text>
<text x="508.8" y="205.5" font-size="10.2" font-weight="bold" text-anchor="middle" fill="#222a52">Diabetes</text>
<rect x="0.5" y="0.5" width="684" height="388" fill="none" stroke="#f1f5f5" stroke-width="1"/>
</svg>
</body></html>
